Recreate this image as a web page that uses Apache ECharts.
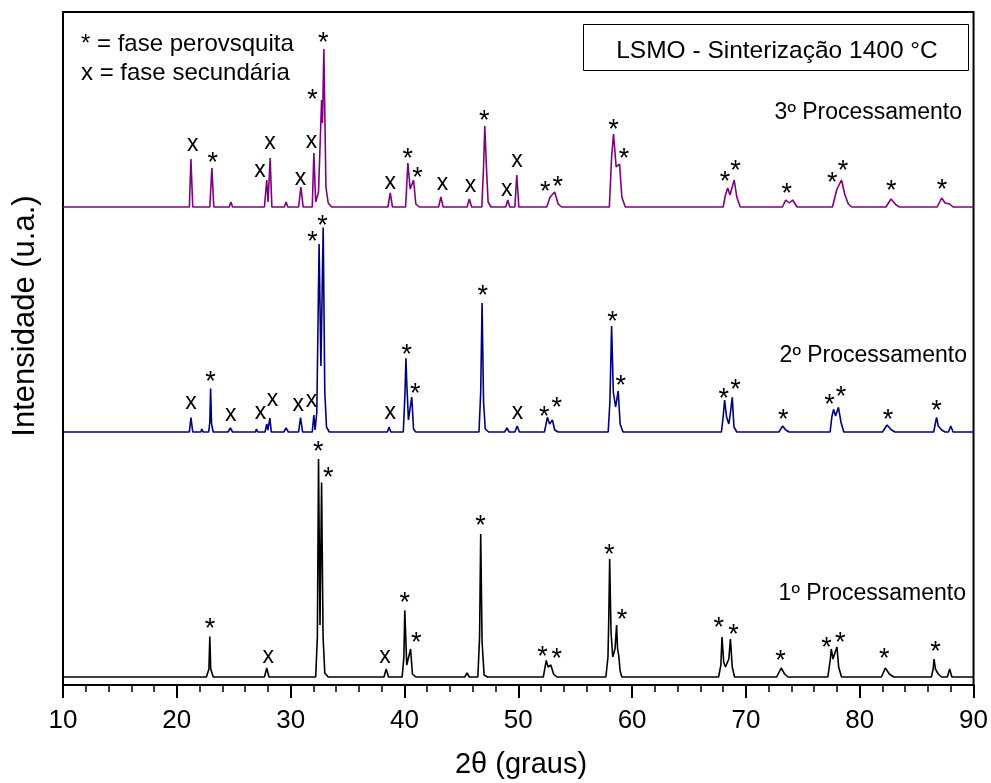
<!DOCTYPE html>
<html><head><meta charset="utf-8">
<script src="https://cdn.jsdelivr.net/npm/echarts@6/dist/echarts.min.js"></script>
<style>html,body{margin:0;padding:0;background:#fff}#c{width:991px;height:783px}</style>
</head><body><div id="c"></div>
<script>
const FONT = '"Liberation Sans", Arial, Helvetica, sans-serif';

// ---- data (2θ in degrees, intensity above each pattern's own baseline, arbitrary units) ----
const xTickLabels = [10, 20, 30, 40, 50, 60, 70, 80, 90];
const seriesNames = ['1º Processamento', '2º Processamento', '3º Processamento'];
const baselineOffsets = [8, 253, 478];   // vertical stacking of the three patterns

const pattern1 = [
  [10,0],[22.6,0],[22.82,8],[22.9,40.6],[22.98,8],[23.2,0],[27.7,0],[27.9,9],[28.1,0],
  [32.2,0],[32.35,40],[32.45,218],[32.58,52],[32.72,194.6],[32.85,40],[33.0,4],[33.3,0],
  [38.2,0],[38.4,8],[38.6,0],[39.8,0],[39.95,20],[40.03,66.6],[40.2,12],[40.3,10],[40.54,28],[40.7,3],[41.0,0],
  [45.3,0],[45.5,4],[45.7,0],[46.45,0],[46.6,40],[46.7,143],[46.82,35],[47.0,2],[47.3,0],
  [52.2,0],[52.46,16.6],[52.62,10],[52.86,12],[53.1,3],[53.4,0],
  [57.7,0],[57.88,20],[57.95,57],[58.03,118],[58.15,45],[58.3,20],[58.5,28],[58.64,52],[58.72,29],[58.84,20],[58.95,6],[59.1,0],
  [67.6,0],[67.8,12],[67.9,40],[68.05,15],[68.2,10],[68.5,18],[68.64,38],[68.8,10],[69.0,0],
  [72.7,0],[73.1,9],[73.4,3],[73.7,0],
  [77.2,0],[77.42,18],[77.5,28],[77.65,18],[77.82,24],[78.0,30],[78.15,10],[78.4,0],
  [81.9,0],[82.25,9],[82.6,3],[83.0,0],
  [86.3,0],[86.45,8],[86.53,18],[86.65,8],[86.9,3],[87.2,0],[87.7,0],[87.9,8],[88.1,0],[90,0]
];
const pattern2 = [
  [10,0],[21.1,0],[21.24,14.5],[21.4,0],[22.1,0],[22.2,3],[22.3,0],
  [22.8,0],[22.9,10],[22.97,43.5],[23.05,8],[23.2,0],[24.5,0],[24.7,4],[24.9,0],[26.9,0],[27.0,3],[27.1,0],
  [27.75,0],[27.9,8],[28.0,2],[28.18,14],[28.3,0],[29.4,0],[29.6,4],[29.8,0],
  [30.7,0],[30.87,14.5],[31.05,0],[31.9,0],[32.04,17],[32.15,2],[32.3,20],[32.5,188],[32.66,66],[32.86,204.5],[33.0,40],[33.15,5],[33.4,0],
  [38.5,0],[38.65,5],[38.8,0],[39.9,0],[40.05,40],[40.13,73.7],[40.2,50],[40.35,12],[40.5,10],[40.64,35],[40.8,3],[41.0,0],
  [46.55,0],[46.7,40],[46.82,129],[46.95,30],[47.1,3],[47.4,0],[48.8,0],[49.0,4],[49.2,0],[49.7,0],[49.9,6],[50.1,0],
  [52.3,0],[52.56,14.7],[52.75,8],[53.0,12],[53.2,2],[53.5,0],
  [57.9,0],[58.05,30],[58.12,65],[58.2,106],[58.35,40],[58.55,25],[58.78,41],[58.95,8],[59.2,0],
  [67.85,0],[68.0,15],[68.13,32],[68.3,15],[68.5,8],[68.65,20],[68.8,34.7],[68.95,5],[69.2,0],
  [72.9,0],[73.23,6],[73.5,2],[73.8,0],
  [77.4,0],[77.55,15],[77.7,22.7],[77.88,16],[78.13,24.7],[78.35,10],[78.6,0],
  [82.0,0],[82.4,7],[82.8,2],[83.1,0],
  [86.5,0],[86.6,6],[86.75,14.7],[86.9,6],[87.2,2],[87.5,0],[87.8,0],[88.0,6],[88.2,0],[90,0]
];
const pattern3 = [
  [10,0],[21.1,0],[21.24,48],[21.4,0],[22.9,0],[23.08,39],[23.25,0],[24.6,0],[24.75,5],[24.9,0],
  [27.7,0],[27.9,27],[28.02,5],[28.2,49],[28.35,0],[29.45,0],[29.6,5],[29.75,0],
  [30.7,0],[30.9,20],[31.1,0],[31.9,0],[32.04,54],[32.2,5],[32.45,15],[32.72,107],[32.8,84],[32.92,158],[33.1,20],[33.3,4],[33.6,0],
  [38.55,0],[38.75,14],[38.95,0],[40.1,0],[40.3,44],[40.5,18],[40.8,27],[41.0,3],[41.3,0],
  [43.0,0],[43.2,10],[43.4,0],[45.5,0],[45.7,8],[45.9,0],
  [46.8,0],[46.95,40],[47.06,81],[47.2,40],[47.35,5],[47.6,0],
  [48.9,0],[49.08,7],[49.25,0],[49.7,0],[49.87,32],[50.05,0],
  [52.5,0],[52.8,10],[52.95,8],[53.2,15],[53.5,3],[53.8,0],
  [58.0,0],[58.2,50],[58.37,73],[58.6,40],[58.9,43],[59.1,10],[59.4,0],
  [68.0,0],[68.2,12],[68.4,19],[68.6,12],[68.97,27],[69.2,10],[69.5,0],
  [73.2,0],[73.5,7],[73.8,4],[74.1,7],[74.5,0],
  [77.6,0],[78.0,18],[78.4,27],[78.7,12],[79.0,3],[79.3,0],
  [82.3,0],[82.75,8],[83.2,2],[83.5,0],
  [86.8,0],[87.2,9],[87.5,4],[87.9,3],[88.2,0],[90,0]
];

// peak markers: [2θ, height above the pattern's baseline, symbol]
const marks1 = [
  [22.91,54.3,'*'],[28.03,18.7,'x'],[32.42,231,'*'],[33.3,205.3,'*'],[38.28,18.7,'x'],
  [40.03,80.3,'*'],[41.04,40.3,'*'],[46.69,157,'*'],[52.12,26.3,'*'],[53.38,24.3,'*'],
  [58.0,128.7,'*'],[59.12,63.7,'*'],[67.62,55.3,'*'],[68.91,48.7,'*'],[73.05,22,'*'],
  [77.09,35.3,'*'],[78.3,40.3,'*'],[82.15,24.3,'*'],[86.65,31,'*']
];
const marks2 = [
  [21.24,27.7,'x'],[22.97,56,'*'],[24.73,15.3,'x'],[27.36,17,'x'],[28.41,30.3,'x'],
  [30.66,25.3,'x'],[31.84,29.3,'x'],[31.93,196,'*'],[32.8,212,'*'],[38.75,17.7,'x'],
  [40.21,83.7,'*'],[40.95,44.3,'*'],[46.88,142,'*'],[49.93,17,'x'],[52.29,21.3,'*'],
  [53.38,30.3,'*'],[58.27,116,'*'],[59.0,52.7,'*'],[68.06,39.7,'*'],[69.08,48.7,'*'],
  [73.29,18.7,'*'],[77.35,33.7,'*'],[78.36,41.3,'*'],[82.49,18.7,'*'],[86.75,27,'*']
];
const marks3 = [
  [21.39,60.3,'x'],[23.15,50.3,'*'],[27.3,34.3,'x'],[28.18,62,'x'],[30.87,26,'x'],
  [31.84,63.7,'x'],[31.93,113,'*'],[32.86,170.3,'*'],[38.75,22,'x'],[40.3,54.3,'*'],
  [41.15,35.3,'*'],[43.34,21,'x'],[45.81,19,'x'],[47.02,92,'*'],[48.99,15.3,'x'],
  [49.89,44,'x'],[52.36,21,'*'],[53.47,26.3,'*'],[58.37,83.7,'*'],[59.28,54.3,'*'],
  [68.17,31,'*'],[69.08,42,'*'],[73.58,19,'*'],[77.59,30.3,'*'],[78.54,42,'*'],
  [82.76,22,'*'],[87.22,23.7,'*']
];
const legendLines = ['* = fase perovsquita', 'x = fase secundária'];
const titleBox = 'LSMO - Sinterização 1400 °C';
const xAxisTitle = '2θ (graus)';
const yAxisTitle = 'Intensidade (u.a.)';

// ---- styles ----
const colors = ['#000000', '#000080', '#800080'];
const patterns = [pattern1, pattern2, pattern3];
const marks = [marks1, marks2, marks3];

const chart = echarts.init(document.getElementById('c'), null, {renderer: 'canvas'});

const series = [];
patterns.forEach((p, i) => {
  series.push({
    name: seriesNames[i], type: 'line', showSymbol: false, symbol: 'none',
    data: p.map(d => [d[0], d[1] + baselineOffsets[i]]),
    lineStyle: {color: colors[i], width: 1.6}, animation: false, z: 2
  });
});
marks.forEach((m, i) => {
  series.push({
    type: 'custom', animation: false, z: 5,
    data: m.map(d => [d[0], d[1] + baselineOffsets[i], d[2]]),
    renderItem: function (params, api) {
      const pt = api.coord([api.value(0), api.value(1)]);
      const t = m[params.dataIndex][2];
      const star = t === '*';
      return {
        type: 'text', x: pt[0], y: pt[1] + (star ? 7 : -2),
        style: {text: t, fontSize: star ? 27 : 23, fontFamily: FONT, fill: '#000', align: 'center', verticalAlign: 'middle'}
      };
    }
  });
});

const gText = (text, x, y, opts) => ({
  type: 'text', x: x, y: y, z: 20,
  style: Object.assign({text: text, fontFamily: FONT, fontSize: 23, fill: '#000', align: 'left', verticalAlign: 'middle'}, opts || {})
});

chart.setOption({
  backgroundColor: '#fff',
  animation: false,
  grid: {left: 63, right: 17, top: 12, bottom: 98, show: true, borderColor: '#000', borderWidth: 2, backgroundColor: 'transparent'},
  xAxis: {
    type: 'value', min: xTickLabels[0], max: xTickLabels[xTickLabels.length - 1], interval: 10,
    axisLine: {show: true, onZero: false, lineStyle: {color: '#000', width: 2}},
    axisTick: {show: true, inside: false, length: 13, lineStyle: {color: '#000', width: 2}},
    minorTick: {show: true, splitNumber: 5, length: 7, lineStyle: {color: '#000', width: 1.5}},
    splitLine: {show: false},
    axisLabel: {color: '#000', fontSize: 26, fontFamily: FONT, margin: 23,
      formatter: v => xTickLabels.indexOf(v) >= 0 ? String(v) : ''}
  },
  yAxis: {
    type: 'value', min: 0, max: 673,
    axisLine: {show: true, lineStyle: {color: '#000', width: 2}},
    axisTick: {show: false}, axisLabel: {show: false}, splitLine: {show: false}
  },
  series: series,
  graphic: [
    gText(legendLines[0], 81, 44, {fontSize: 24}),
    gText(legendLines[1], 81, 73, {fontSize: 24}),
    {type: 'rect', z: 10, shape: {x: 583.5, y: 24.5, width: 385, height: 46}, style: {fill: '#fff', stroke: '#000', lineWidth: 1}},
    gText(titleBox, 777, 51, {align: 'center', fontSize: 24.5}),
    gText(seriesNames[2], 962, 113, {align: 'right'}),
    gText(seriesNames[1], 967, 356, {align: 'right'}),
    gText(seriesNames[0], 966, 594, {align: 'right'}),
    gText(xAxisTitle, 521, 765, {align: 'center', fontSize: 29}),
    {type: 'text', x: 25, y: 316, rotation: Math.PI / 2, z: 20,
      style: {text: yAxisTitle, fontFamily: FONT, fontSize: 31, fill: '#000', align: 'center', verticalAlign: 'middle'}}
  ]
});
</script></body></html>
